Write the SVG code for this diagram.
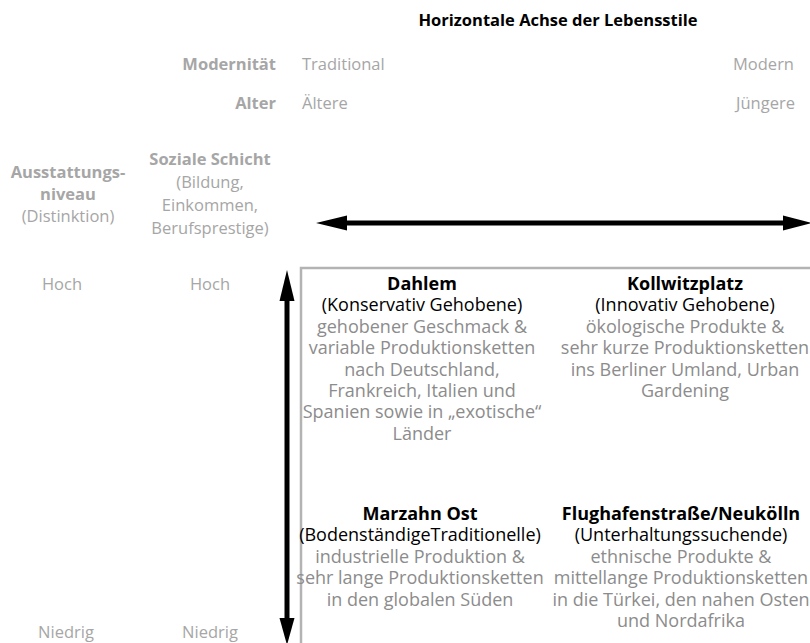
<svg xmlns="http://www.w3.org/2000/svg" width="810" height="643" viewBox="0 0 810 643">
<style>
text{font-family:"Open Sans","Liberation Sans",sans-serif;}
.side{font-size:16.5px;fill:#a6a6a6;}
.sb{font-weight:bold;}
.title{font-size:16.5px;font-weight:bold;fill:#000;}
.q{font-size:18px;text-anchor:middle;}
.qh{font-weight:bold;fill:#000;}
.qs{fill:#000;}
.qb{fill:#8c8c8c;}
.mid{text-anchor:middle;}
.end{text-anchor:end;}
.ax{fill:#000;stroke:none;}
</style>
<rect width="810" height="643" fill="#fff"/>
<g id="title"><text class="title mid" x="558" y="26">Horizontale Achse der Lebensstile</text></g>
<g id="modernitaet">
<text class="side sb end" x="276" y="70">Modernität</text>
<text class="side" x="302" y="70">Traditional</text>
<text class="side" x="733" y="70">Modern</text>
</g>
<g id="alter">
<text class="side sb end" x="276" y="109">Alter</text>
<text class="side" x="302" y="109">Ältere</text>
<text class="side" x="736" y="109">Jüngere</text>
</g>
<g id="ausstattung">
<text class="side sb mid" x="68" y="178">Ausstattungs-</text>
<text class="side sb mid" x="68" y="200">niveau</text>
<text class="side mid" x="68" y="222">(Distinktion)</text>
<text class="side mid" x="62" y="290">Hoch</text>
<text class="side mid" x="66" y="638">Niedrig</text>
</g>
<g id="schicht">
<text class="side sb mid" x="210" y="165">Soziale Schicht</text>
<text class="side mid" x="210" y="188">(Bildung,</text>
<text class="side mid" x="210" y="211">Einkommen,</text>
<text class="side mid" x="210" y="234">Berufsprestige)</text>
<text class="side mid" x="210" y="290">Hoch</text>
<text class="side mid" x="210" y="638">Niedrig</text>
</g>
<g id="frame"><rect x="301" y="268" width="520" height="400" fill="none" stroke="#b3b3b3" stroke-width="2.5"/></g>
<g id="connectors">
<line x1="345" y1="223" x2="785" y2="223" stroke="#000" stroke-width="5"/>
<polygon class="ax" points="316,223 347,215.5 347,230.5"/>
<polygon class="ax" points="812,223 783,215.5 783,230.5"/>
<line x1="287" y1="298" x2="287" y2="622" stroke="#000" stroke-width="5"/>
<polygon class="ax" points="287,270 279.5,301 294.5,301"/>
<polygon class="ax" points="287,645 279.5,618 294.5,618"/>
</g>
<g id="dahlem" class="q">
<text class="qh" x="422" y="290">Dahlem</text>
<text class="qs" x="422" y="311.4">(Konservativ Gehobene)</text>
<text class="qb" x="422" y="332.8">gehobener Geschmack &amp;</text>
<text class="qb" x="422" y="354.2">variable Produktionsketten</text>
<text class="qb" x="422" y="375.6">nach Deutschland,</text>
<text class="qb" x="422" y="397">Frankreich, Italien und</text>
<text class="qb" x="422" y="418.4">Spanien sowie in „exotische“</text>
<text class="qb" x="422" y="439.8">Länder</text>
</g>
<g id="kollwitzplatz" class="q">
<text class="qh" x="685" y="290">Kollwitzplatz</text>
<text class="qs" x="685" y="311.4">(Innovativ Gehobene)</text>
<text class="qb" x="685" y="332.8">ökologische Produkte &amp;</text>
<text class="qb" x="685" y="354.2">sehr kurze Produktionsketten</text>
<text class="qb" x="685" y="375.6">ins Berliner Umland, Urban</text>
<text class="qb" x="685" y="397">Gardening</text>
</g>
<g id="marzahn" class="q">
<text class="qh" x="420" y="520">Marzahn Ost</text>
<text class="qs" x="420" y="541.4">(BodenständigeTraditionelle)</text>
<text class="qb" x="420" y="562.8">industrielle Produktion &amp;</text>
<text class="qb" x="420" y="584.2">sehr lange Produktionsketten</text>
<text class="qb" x="420" y="605.6">in den globalen Süden</text>
</g>
<g id="flughafenstrasse" class="q">
<text class="qh" x="681" y="520">Flughafenstraße/Neukölln</text>
<text class="qs" x="681" y="541.4">(Unterhaltungssuchende)</text>
<text class="qb" x="681" y="562.8">ethnische Produkte &amp;</text>
<text class="qb" x="681" y="584.2">mittellange Produktionsketten</text>
<text class="qb" x="681" y="605.6">in die Türkei, den nahen Osten</text>
<text class="qb" x="681" y="627">und Nordafrika</text>
</g>
</svg>
